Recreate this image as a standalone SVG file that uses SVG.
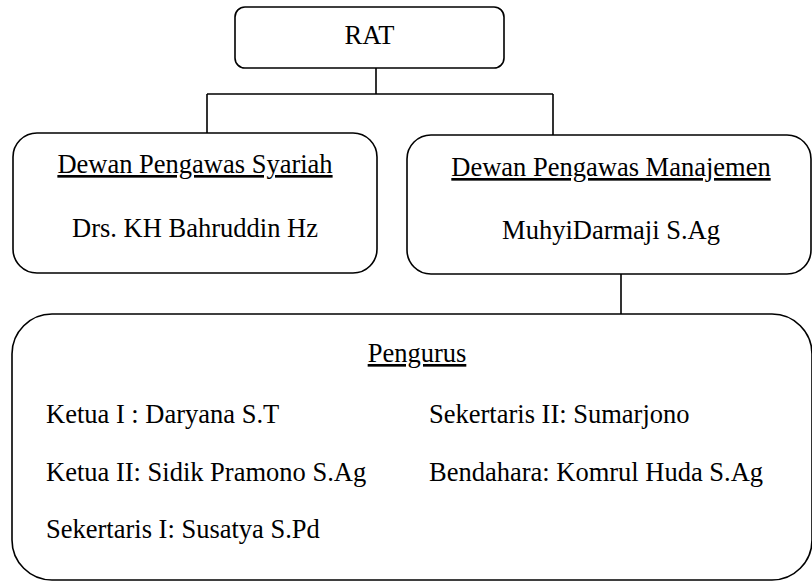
<svg xmlns="http://www.w3.org/2000/svg" width="812" height="581" viewBox="0 0 812 581">
<style>
.box{fill:#fff;stroke:#000;stroke-width:1.6}
.conn{fill:none;stroke:#000;stroke-width:1.6}
.t{font-family:"Liberation Serif","Times New Roman",serif;font-size:26.5px;fill:#000}
.c{text-anchor:middle}
.u{text-decoration:underline}
</style>
<rect width="812" height="581" fill="#fff"/>
<g id="connectors">
<path class="conn" d="M376,68 V94 M207,94 H553 M207,94 V133 M553,94 V135 M621,274 V314"/>
</g>
<g id="rat">
<rect class="box" x="235" y="7" width="269" height="61" rx="10"/>
<text class="t c" x="369.5" y="44">RAT</text>
</g>
<g id="dps">
<rect class="box" x="13" y="133" width="364" height="140" rx="24"/>
<text class="t c u" x="195" y="173">Dewan Pengawas Syariah</text>
<text class="t c" x="195" y="237">Drs. KH Bahruddin Hz</text>
</g>
<g id="dpm">
<rect class="box" x="407" y="135" width="404" height="139" rx="24"/>
<text class="t c u" x="611" y="176">Dewan Pengawas Manajemen</text>
<text class="t c" x="611" y="239">MuhyiDarmaji S.Ag</text>
</g>
<g id="pengurus">
<rect class="box" x="12" y="314" width="800" height="266" rx="40"/>
<text class="t c u" x="417" y="362">Pengurus</text>
<text class="t" x="46" y="423">Ketua I : Daryana S.T</text>
<text class="t" x="46" y="481">Ketua II: Sidik Pramono S.Ag</text>
<text class="t" x="46" y="538">Sekertaris I: Susatya S.Pd</text>
<text class="t" x="429" y="423">Sekertaris II: Sumarjono</text>
<text class="t" x="429" y="481">Bendahara: Komrul Huda S.Ag</text>
</g>
</svg>
